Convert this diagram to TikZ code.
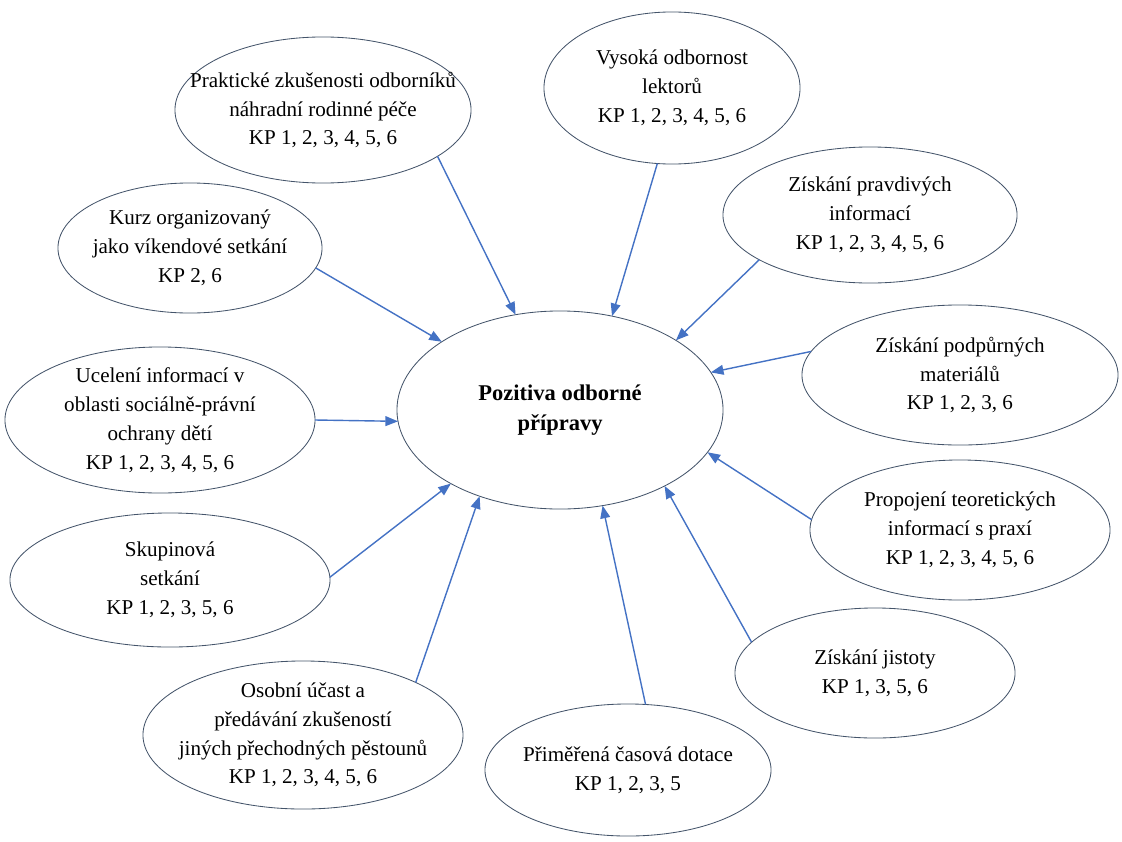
\documentclass[tikz,border=0pt]{standalone}
\usepackage{fontspec}
\setmainfont{Liberation Serif}
\usetikzlibrary{shapes.geometric,arrows.meta}
\definecolor{rim}{HTML}{44546A}
\definecolor{arrowblue}{HTML}{4472C4}
\tikzstyle{bubble}=[draw=rim,ellipse,inner sep=0pt,outer sep=0pt,line width=0.6pt]
\tikzstyle{arr}=[draw=arrowblue,line width=1pt,-{Triangle[length=9pt,width=7pt]}]
\tikzstyle{txt}=[align=center,font=\fontsize{15}{20.5}\selectfont]
\newcommand{\topic}[5]{\node[bubble,minimum width=#3*0.05cm,minimum height=#4*0.05cm] (#1) at (#2) {};
    \node[txt] (#1t) at (#1) {#5};}
\newcommand{\myarrow}[3]{\draw[arr] (#1.#2) -- (poz.#3);}

\begin{document}
\begin{tikzpicture}[x=0.025cm,y=-0.025cm]
    \useasboundingbox (0,0) rectangle (1122,841);
    % centre
    \node[bubble,minimum width=163*0.05cm,minimum height=99*0.05cm] (poz) at (560,410) {};
    \node[txt,font=\fontsize{16}{21}\selectfont\bfseries] (pozt) at (poz) {Pozitiva odborné\\přípravy};

    % bubbles around
    \topic{prak}{323,110}{148}{73}{Praktické zkušenosti odborníků\\náhradní rodinné péče\\KP 1, 2, 3, 4, 5, 6}
    \topic{vys}{672,88}{128}{76}{Vysoká odbornost\\lektorů\\KP 1, 2, 3, 4, 5, 6}
    \topic{prav}{870,215}{147}{68}{Získání pravdivých\\informací\\KP 1, 2, 3, 4, 5, 6}
    \topic{podp}{960,375}{158}{70}{Získání podpůrných\\materiálů\\KP 1, 2, 3, 6}
    \topic{prop}{960,530}{150}{70}{Propojení teoretických\\informací s praxí\\KP 1, 2, 3, 4, 5, 6}
    \topic{jist}{875,673}{140}{65}{Získání jistoty\\KP 1, 3, 5, 6}
    \topic{prim}{628,770}{143}{66}{Přiměřená časová dotace\\KP 1, 2, 3, 5}
    \topic{osob}{303,735}{160}{74}{Osobní účast a\\předávání zkušeností\\jiných přechodných pěstounů\\KP 1, 2, 3, 4, 5, 6}
    \topic{skup}{170,580}{160}{67}{Skupinová\\setkání\\KP 1, 2, 3, 5, 6}
    \topic{ucel}{160,420}{155}{73}{Ucelení informací v\\oblasti sociálně-právní\\ochrany dětí\\KP 1, 2, 3, 4, 5, 6}
    \topic{kurz}{190,248}{132}{65}{Kurz organizovaný\\jako víkendové setkání\\KP 2, 6}

    % arrows into the centre
    \myarrow{prak}{-22}{115}
    \myarrow{vys}{-101}{61}
    \myarrow{prav}{-158}{31}
    \myarrow{podp}{171}{14}
    \myarrow{prop}{176}{-16}
    \myarrow{jist}{166}{-36}
    \myarrow{prim}{75}{-66}
    \myarrow{osob}{25}{-133}
    \myarrow{skup}{1}{-146}
    \myarrow{ucel}{0}{-176}
    \myarrow{kurz}{-9}{150}
\end{tikzpicture}
\end{document}
